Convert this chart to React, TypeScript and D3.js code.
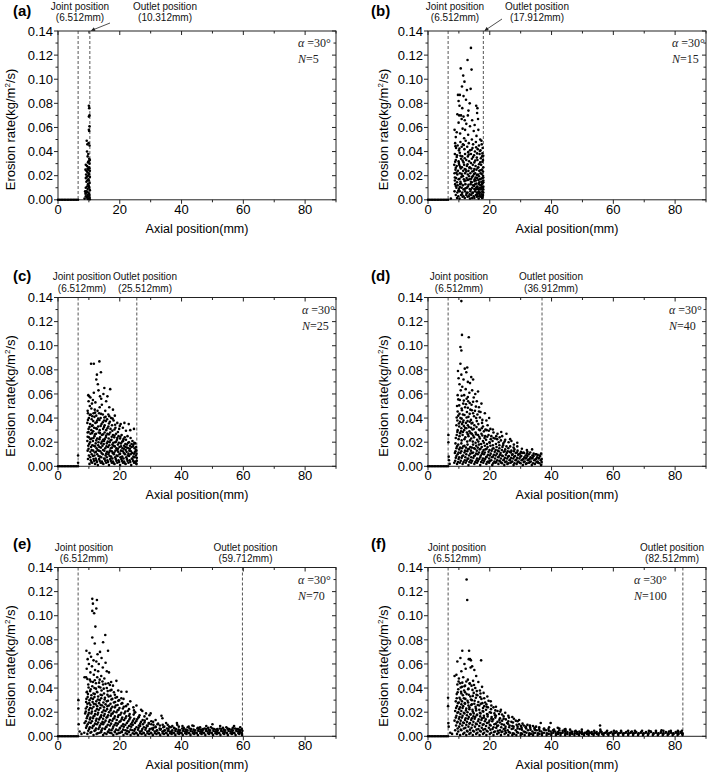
import * as d3 from "d3";

// ---- data ----
const panelTags = ["(a)", "(b)", "(c)", "(d)", "(e)", "(f)"];
const bladeN = [5, 15, 25, 40, 70, 100];
const jointPos = 6.512;
const outletPos = [10.312, 17.912, 25.512, 36.912, 59.712, 82.512];
const xTicks = [0, 20, 40, 60, 80];
const yTicks = [0, 0.02, 0.04, 0.06, 0.08, 0.1, 0.12, 0.14];
// zero-erosion cells upstream of the joint
const zeroX = [0, 0.5, 1, 1.5, 2, 2.5, 3, 3.5, 4, 4.5, 5, 5.5, 6, 6.5];

type Pt = [number, number];

const ptsA: Pt[] = [
  [10.0,.078],[10.1,.076],[10.2,.070],[10.0,.069],[10.2,.061],[10.0,.058],[10.1,.057],[9.3,.049],[9.9,.047],[9.5,.046],
  [10.2,.045],[9.4,.040],[9.8,.038],[9.6,.036],[10.1,.034],[10.3,.033],[9.9,.032],[10.2,.030],[9.7,.031],[9.0,.029],
  [9.4,.028],[10.0,.027],[9.6,.026],[8.9,.025],[9.8,.025],[9.2,.024],[10.3,.024],[9.5,.023],[9.9,.022],[9.1,.021],
  [10.1,.021],[9.7,.020],[9.3,.019],[10.3,.019],[9.0,.018],[9.8,.017],[10.0,.016],[9.5,.016],[9.2,.015],[10.2,.014],
  [9.7,.013],[9.9,.012],[9.4,.011],[10.1,.010],[9.0,.010],[9.6,.009],[10.3,.008],[9.3,.007],[9.8,.006],[9.1,.006],
  [10.0,.005],[9.5,.004],[9.0,.003],[9.7,.003],[10.2,.002],[9.3,.002],[9.9,.001],[9.6,.0008],[10.3,.0005],[8.6,.001],
  [8.9,.005],[8.8,.007],[9.0,.006],[10.2,.004],[10.0,.011],[10.2,.026],
];

const ptsB: Pt[] = [
  [13.9,.126],[12.8,.116],[14.1,.108],[10.6,.109],[11.4,.103],[11.8,.098],[11.0,.094],[12.6,.091],[13.8,.092],[9.7,.087],
  [10.3,.087],[11.5,.086],[12.3,.083],[9.9,.082],[13.5,.080],[10.2,.078],[15.6,.078],[16.0,.076],[11.1,.076],[13.1,.074],
  [9.5,.071],[10.1,.070],[10.7,.070],[11.5,.069],[12.9,.070],[15.9,.072],[10.9,.067],[11.9,.066],[14.3,.066],[16.2,.067],
  [9.9,.064],[12.4,.063],[13.6,.061],[15.1,.062],[8.6,.058],[11.2,.059],[12.0,.058],[14.8,.057],[16.3,.058],[9.3,.056],
  [10.4,.055],[13.0,.054],[15.7,.053],[9.0,.052],[11.7,.051],[14.2,.050],[16.9,.050],[17.3,.049],
  [8.8,.047],[9.6,.045],[10.5,.048],[11.3,.046],[12.2,.049],[13.2,.047],[14.6,.046],[15.5,.048],[16.5,.045],[17.4,.046],
  [9.1,.043],[10.0,.041],[10.9,.044],[11.8,.042],[12.7,.044],[13.6,.041],[14.4,.043],[15.2,.040],[16.1,.042],[17.0,.041],[17.7,.043],
  [8.7,.038],[9.4,.037],[10.3,.039],[11.1,.036],[12.0,.038],[12.9,.036],[13.9,.038],[14.9,.037],[15.8,.035],[16.7,.038],[17.5,.036],
  [9.0,.033],[9.9,.032],[10.7,.034],[11.5,.031],[12.4,.033],[13.3,.032],[14.2,.034],[15.0,.031],[16.0,.033],[16.9,.031],[17.8,.033],
  [8.5,.029],[9.3,.028],[10.1,.029],[11.0,.027],[11.7,.029],[12.6,.028],[13.5,.027],[14.5,.029],[15.4,.028],[16.3,.027],[17.2,.029],[17.9,.027],
  [8.9,.025],[9.7,.024],[10.6,.026],[11.4,.024],[12.2,.025],[13.1,.024],[14.0,.026],[14.8,.024],[15.7,.025],[16.6,.024],[17.5,.025],
  [8.6,.022],[9.5,.021],[10.3,.022],[11.2,.020],[12.0,.022],[12.9,.021],[13.7,.022],[14.6,.020],[15.3,.022],[16.2,.021],[17.0,.022],[17.8,.020],
  [9.1,.018],[9.9,.017],[10.8,.019],[11.6,.017],[12.5,.018],[13.4,.017],[14.3,.019],[15.1,.017],[15.9,.018],[16.8,.017],[17.6,.018],
  [8.7,.016],[10.5,.015],[12.2,.016],[13.9,.015],[15.5,.016],[17.3,.015],
  [8.8,.013],[9.6,.012],[10.4,.013],[11.3,.012],[12.1,.013],[12.9,.011],[13.8,.013],[14.6,.012],[15.3,.013],[15.9,.011],[16.5,.013],[17.0,.012],[17.5,.013],[17.9,.011],
  [9.2,.010],[10.0,.009],[10.9,.010],[11.8,.009],[12.6,.010],[13.5,.009],[14.3,.010],[15.0,.009],[15.6,.010],[16.2,.009],[16.8,.010],[17.3,.009],[17.8,.010],
  [8.6,.007],[9.5,.006],[10.3,.007],[11.1,.006],[12.0,.007],[12.8,.006],[13.7,.007],[14.5,.006],[15.2,.007],[15.8,.006],[16.4,.007],[17.0,.006],[17.6,.007],
  [9.0,.004],[9.8,.003],[10.7,.004],[11.5,.003],[12.4,.004],[13.2,.003],[14.0,.004],[14.8,.003],[15.5,.004],[16.1,.003],[16.7,.004],[17.2,.003],[17.8,.004],
  [10.2,.001],[11.9,.0015],[13.6,.001],[15.0,.0015],[16.4,.001],[17.5,.0015],[7.4,.001],[17.9,.006],[17.9,.016],[17.7,.014],
];
const ptsBCore: Pt[] = [
  [8.9,.0445],[10.2,.0425],[11.6,.0455],[13.0,.0395],[14.1,.0415],[15.6,.0435],[16.8,.0405],[17.6,.0385],
  [9.3,.0355],[10.5,.0365],[11.9,.0345],[13.2,.0375],[14.6,.0355],[15.9,.0385],[17.1,.0345],[17.9,.0365],
  [8.8,.0315],[10.0,.0305],[11.2,.0325],[12.8,.0295],[13.9,.0305],[15.3,.0325],[16.5,.0295],[17.6,.0315],
  [9.0,.0265],[10.4,.0275],[11.9,.0255],[13.4,.0265],[14.3,.0235],[15.0,.0255],[16.1,.0265],[17.0,.0245],[17.8,.0235],
  [9.2,.0225],[10.9,.0215],[12.4,.0235],[13.3,.0195],[14.9,.0215],[15.8,.0205],[16.5,.0195],[17.4,.0215],
  [8.7,.0185],[10.2,.0175],[11.3,.0195],[12.9,.0165],[14.0,.0175],[15.4,.0185],[16.3,.0165],[17.1,.0175],[17.9,.0185],
  [9.4,.0145],[10.7,.0135],[11.8,.0155],[13.1,.0125],[14.2,.0145],[15.0,.0155],[15.7,.0135],[16.6,.0145],[17.3,.0125],[17.9,.0145],
  [9.0,.0115],[10.3,.0105],[11.5,.0085],[12.2,.0095],[13.9,.0085],[14.9,.0115],[15.5,.0085],[16.0,.0105],[16.9,.0085],[17.5,.0105],
  [9.8,.0075],[11.0,.0045],[12.5,.0055],[13.5,.0045],[14.4,.0055],[15.9,.0045],[16.5,.0055],[17.4,.0045],[17.9,.0085],
  [9.4,.0015],[11.2,.0025],[12.8,.0025],[14.3,.0015],[15.8,.0025],[16.9,.0025],[17.7,.0025],
];

const ptsC: Pt[] = [
  [10.7,.085],[11.6,.085],[13.4,.087],[12.6,.076],[13.9,.078],[12.4,.072],[12.9,.068],[13.1,.063],[16.9,.064],[15.0,.065],
  [16.0,.058],[10.1,.058],[9.8,.059],[11.3,.055],[10.5,.057],[9.9,.054],[11.0,.052],[12.1,.053],[14.2,.051],[15.6,.054],
  [14.7,.060],[16.6,.049],[17.8,.047],[10.3,.050],[10.8,.048],[11.9,.047],[13.5,.049],[12.8,.046],[9.6,.046],[15.3,.046],
  [14.0,.056],[13.6,.058],[11.6,.061],
  [9.7,.044],[10.6,.043],[11.5,.044],[12.4,.042],[13.3,.044],[14.5,.043],[15.4,.041],[16.3,.043],[17.2,.040],[18.4,.042],
  [10.0,.040],[10.9,.039],[11.8,.041],[12.7,.038],[13.8,.040],[14.9,.038],[15.9,.039],[16.8,.037],[18.0,.038],[19.2,.036],[21.5,.036],[22.9,.035],[20.3,.035],
  [9.5,.036],[10.4,.035],[11.2,.034],[12.1,.036],[13.0,.033],[14.1,.035],[15.1,.034],[16.3,.033],[17.5,.034],[18.6,.032],[19.8,.031],[21.0,.032],[23.4,.030],[24.6,.031],
  [9.9,.031],[10.8,.030],[11.7,.032],[12.6,.031],[13.5,.030],[14.6,.031],[15.6,.030],[17.0,.031],
  [9.6,.028],[10.5,.027],[11.4,.029],[12.3,.027],[13.2,.028],[14.2,.026],[15.1,.028],[16.0,.027],[16.9,.028],[17.8,.026],[18.8,.027],[19.6,.025],[20.6,.026],[21.6,.024],[22.5,.025],
  [10.0,.024],[10.9,.023],[11.8,.025],[12.7,.023],[13.6,.024],[14.6,.022],[15.5,.024],[16.4,.023],[17.3,.022],[18.2,.024],[19.1,.022],[20.1,.023],[21.1,.021],[22.0,.022],[23.0,.020],[24.1,.021],[25.0,.019],
  [9.5,.021],[10.4,.020],[11.3,.021],[12.2,.019],[13.1,.020],[14.0,.019],[14.9,.021],[15.8,.019],[16.7,.020],[17.6,.018],[18.5,.020],[19.4,.018],[20.4,.019],[21.4,.017],[22.3,.018],[23.3,.017],[24.4,.018],[25.3,.016],
  [9.8,.017],[10.7,.016],[11.6,.017],[12.5,.015],[13.4,.016],[14.4,.017],[15.3,.015],[16.2,.016],[17.1,.015],[18.0,.017],[18.9,.015],[19.9,.016],[20.9,.015],[21.8,.016],[22.8,.015],[23.8,.016],[24.8,.015],
  [9.6,.013],[10.5,.012],[11.4,.013],[12.3,.012],[13.2,.013],[14.1,.011],[15.0,.013],[15.9,.012],[16.8,.013],[17.7,.011],[18.6,.013],[19.5,.012],[20.4,.013],[21.3,.011],[22.2,.012],[23.1,.013],[24.0,.011],[24.9,.012],[25.4,.013],
  [10.0,.009],[10.9,.010],[11.8,.009],[12.7,.010],[13.6,.008],[14.5,.010],[15.4,.009],[16.3,.010],[17.2,.008],[18.1,.010],[19.0,.009],[19.9,.010],[20.8,.008],[21.7,.010],[22.6,.009],[23.5,.010],[24.4,.008],[25.2,.009],
  [9.7,.006],[10.6,.005],[11.5,.006],[12.4,.005],[13.3,.006],[14.2,.004],[15.1,.006],[16.0,.005],[16.9,.006],[17.8,.004],[18.7,.006],[19.6,.005],[20.5,.006],[21.4,.004],[22.3,.006],[23.2,.005],[24.1,.006],[25.0,.004],[25.5,.007],
  [10.2,.002],[11.1,.003],[12.0,.002],[12.9,.001],[13.8,.003],[14.7,.002],[15.6,.003],[16.5,.001],[17.4,.003],[18.3,.002],[19.2,.003],[20.1,.001],[21.0,.003],[21.9,.002],[22.8,.003],[23.7,.001],[24.6,.003],[25.4,.002],
  [6.5,.009],[6.5,.003],
];
const ptsCCore: Pt[] = [
  [10.3,.0425],[11.1,.0415],[12.0,.0445],[13.0,.0395],[13.9,.0435],[15.0,.0405],[16.6,.0415],[17.7,.0395],
  [9.7,.0385],[11.4,.0375],[12.5,.0365],[13.4,.0385],[14.5,.0365],[15.5,.0375],[16.5,.0355],[18.5,.0345],[20.0,.0335],
  [10.2,.0325],[11.0,.0335],[12.3,.0315],[13.8,.0335],[14.9,.0325],[16.0,.0315],[17.6,.0295],[18.3,.0305],[19.4,.0285],[22.0,.0295],
  [9.9,.0285],[11.0,.0275],[12.0,.0265],[13.6,.0275],[14.6,.0265],[15.6,.0255],[16.5,.0265],[17.4,.0245],[18.3,.0255],[19.2,.0235],[20.2,.0245],[21.2,.0225],[23.5,.0235],
  [9.6,.0245],[10.5,.0225],[11.5,.0235],[12.4,.0215],[13.4,.0225],[14.2,.0205],[15.1,.0225],[16.1,.0205],[17.0,.0215],[17.9,.0195],[18.8,.0205],[19.7,.0195],[20.8,.0205],[21.8,.0185],[22.7,.0195],[23.8,.0185],[24.7,.0195],
  [10.1,.0185],[11.1,.0175],[12.0,.0165],[13.0,.0175],[13.9,.0155],[14.8,.0185],[15.7,.0165],[16.6,.0175],[17.5,.0155],[18.4,.0165],[19.4,.0145],[20.4,.0165],[21.3,.0145],[22.3,.0155],[23.3,.0145],[24.3,.0165],[25.2,.0135],
  [9.9,.0145],[10.9,.0135],[11.9,.0115],[12.8,.0135],[13.7,.0125],[14.6,.0135],[15.6,.0105],[16.5,.0115],[17.4,.0125],[18.2,.0115],[19.2,.0135],[20.1,.0105],[21.0,.0125],[21.9,.0135],[22.8,.0105],[23.6,.0125],[24.6,.0105],[25.4,.0105],
  [10.4,.0075],[11.3,.0085],[12.2,.0065],[13.1,.0085],[14.0,.0075],[14.9,.0065],[15.8,.0075],[16.7,.0085],[17.6,.0065],[18.5,.0075],[19.3,.0085],[20.2,.0075],[21.2,.0065],[22.1,.0075],[23.0,.0085],[23.9,.0065],[24.8,.0075],[25.5,.0045],
  [10.8,.0035],[11.7,.0045],[12.6,.0035],[13.5,.0045],[14.4,.0025],[15.3,.0045],[16.2,.0035],[17.1,.0045],[18.0,.0025],[18.9,.0045],[19.8,.0035],[20.7,.0045],[21.6,.0025],[22.5,.0045],[23.4,.0035],[24.3,.0045],[25.2,.0025],
];

const ptsD: Pt[] = [
  [10.8,.137],[11.0,.109],[13.2,.107],[10.5,.099],[10.8,.096],[10.5,.085],[12.7,.082],[9.7,.079],[11.9,.081],[12.4,.078],
  [10.8,.076],[14.0,.074],[14.6,.072],[9.9,.073],[11.5,.072],[12.9,.070],[13.6,.069],[10.2,.068],[11.1,.066],[16.2,.062],
  [12.2,.064],[14.3,.063],[10.6,.063],[13.4,.061],[15.3,.060],[11.7,.059],[9.6,.059],[14.8,.057],[12.5,.056],[10.3,.055],
  [15.8,.054],[13.0,.054],[17.3,.052],[11.4,.052],[14.1,.051],[9.4,.050],[12.0,.049],[16.5,.049],[10.9,.048],[13.7,.047],
  [15.2,.046],[18.4,.044],[17.0,.045],[19.8,.040],[12.6,.045],[14.6,.044],[16.0,.043],[11.3,.043],[9.8,.042],[10.5,.040],
  [13.1,.041],[15.6,.040],[18.9,.038],[17.5,.036],
  [9.5,.038],[10.4,.037],[11.5,.038],[12.3,.036],[13.5,.037],[14.4,.036],[15.0,.034],[16.3,.035],[17.8,.033],[19.3,.034],[20.2,.031],
  [9.2,.034],[10.1,.033],[11.0,.035],[12.0,.032],[12.9,.034],[13.9,.032],[14.8,.031],[16.8,.030],[18.1,.029],[19.0,.030],[21.2,.028],[22.5,.027],[25.4,.027],[23.2,.024],[24.0,.025],[20.5,.025],
  [9.6,.030],[10.7,.029],[11.7,.030],[12.6,.028],[13.4,.029],[14.2,.027],[15.4,.028],[16.2,.026],[17.3,.027],[18.5,.025],[19.6,.026],[21.7,.023],[22.1,.025],[25.0,.022],[27.0,.021],[28.9,.0195],
  [9.3,.026],[10.2,.025],[11.2,.026],[12.1,.024],[13.1,.025],[14.0,.023],[14.9,.024],[15.9,.022],[16.8,.023],[17.8,.021],[18.8,.022],[19.9,.020],[20.9,.021],[22.9,.020],[24.4,.019],[26.1,.020],[27.8,.018],
  [8.9,.019],[9.8,.018],[10.8,.019],[11.8,.017],[12.8,.018],[13.7,.016],[14.6,.018],[15.6,.017],[16.5,.018],[17.4,.016],[18.4,.017],[19.3,.016],[20.2,.017],[21.2,.015],[22.2,.016],[23.1,.015],[24.1,.016],[25.0,.014],[26.0,.015],[27.0,.013],[28.0,.014],[29.0,.013],[30.1,.012],[31.1,.011],[32.2,.012],[33.7,.014],[35.0,.010],
  [9.2,.015],[10.1,.014],[11.0,.015],[12.0,.013],[12.9,.014],[13.9,.013],[14.9,.015],[15.8,.013],[16.7,.014],[17.7,.012],[18.6,.014],[19.6,.012],[20.6,.013],[21.6,.012],[22.6,.013],[23.5,.011],[24.5,.012],[25.5,.011],[26.4,.012],[27.4,.010],[28.4,.011],[29.4,.010],[30.5,.011],[31.6,.009],[32.7,.010],[33.8,.009],[34.9,.010],[36.1,.009],
  [8.7,.011],[9.6,.010],[10.5,.011],[11.4,.009],[12.4,.010],[13.3,.009],[14.3,.011],[15.2,.009],[16.1,.010],[17.1,.009],[18.1,.010],[19.0,.008],[20.0,.009],[21.0,.008],[21.9,.009],[22.9,.008],[23.9,.009],[24.9,.007],[25.9,.008],[26.9,.007],[27.9,.008],[28.9,.007],[29.9,.008],[30.9,.006],[31.9,.007],[32.9,.006],[33.9,.007],[35.0,.006],[36.0,.007],[36.8,.006],
  [9.0,.007],[9.9,.006],[10.9,.007],[11.9,.005],[12.8,.006],[13.8,.005],[14.7,.007],[15.7,.005],[16.6,.006],[17.6,.005],[18.5,.006],[19.5,.004],[20.5,.005],[21.5,.004],[22.4,.005],[23.4,.004],[24.4,.005],[25.4,.004],[26.4,.005],[27.3,.004],[28.3,.005],[29.3,.004],[30.3,.005],[31.3,.004],[32.3,.005],[33.3,.004],[34.4,.005],[35.5,.004],[36.5,.005],
  [8.5,.003],[9.4,.002],[10.3,.003],[11.2,.002],[12.2,.003],[13.1,.001],[14.0,.003],[15.0,.002],[15.9,.003],[16.9,.001],[17.9,.003],[18.9,.002],[19.8,.003],[20.8,.001],[21.8,.003],[22.8,.002],[23.7,.003],[24.7,.001],[25.7,.002],[26.7,.003],[27.7,.001],[28.7,.002],[29.7,.003],[30.7,.001],[31.7,.002],[32.7,.003],[33.6,.001],[34.6,.002],[35.6,.003],[36.6,.001],
  [6.6,.026],[6.6,.020],[6.7,.008],[6.8,.005],[7.0,.002],
];
const ptsDCore: Pt[] = [
  [9.8,.0555],[10.9,.0585],[12.9,.0575],[11.6,.0545],[13.5,.0525],[10.1,.0505],[12.3,.0515],[14.6,.0535],[15.5,.0495],[11.0,.0465],[12.9,.0485],[14.2,.0465],[16.5,.0455],[9.6,.0455],
  [10.2,.0435],[11.8,.0425],[13.5,.0435],[14.9,.0415],[12.5,.0405],[10.9,.0395],[16.8,.0405],[9.3,.0405],[13.9,.0385],[15.8,.0375],[11.3,.0365],[12.8,.0375],[14.1,.0355],[17.6,.0385],
  [10.0,.0355],[10.8,.0315],[11.6,.0335],[12.4,.0315],[13.2,.0325],[14.4,.0305],[15.7,.0325],[16.5,.0305],[17.4,.0315],[18.6,.0305],[19.7,.0295],[21.0,.0305],[23.7,.0285],
  [9.5,.0285],[10.4,.0275],[11.3,.0285],[12.9,.0265],[13.8,.0275],[14.6,.0255],[15.6,.0265],[16.6,.0245],[17.6,.0255],[18.3,.0235],[19.2,.0245],[20.3,.0225],[21.2,.0235],[22.4,.0225],[23.6,.0215],[24.8,.0205],[26.6,.0225],
  [9.0,.0235],[9.9,.0225],[10.9,.0215],[11.8,.0225],[12.7,.0205],[13.6,.0215],[14.5,.0205],[15.4,.0195],[16.3,.0205],[17.2,.0185],[18.1,.0195],[19.1,.0185],[20.0,.0195],[21.0,.0175],[22.0,.0185],[23.1,.0175],[24.3,.0175],[25.4,.0165],[26.6,.0165],[27.7,.0155],[28.9,.0165],[30.4,.0145],[32.0,.0135],
  [9.4,.0165],[10.4,.0155],[11.4,.0165],[12.3,.0155],[13.3,.0145],[14.2,.0155],[15.2,.0145],[16.1,.0155],[17.0,.0145],[18.0,.0135],[19.0,.0145],[19.9,.0135],[20.9,.0145],[21.9,.0135],[22.9,.0125],[23.9,.0135],[24.8,.0125],[25.8,.0125],[26.8,.0115],[27.8,.0125],[28.8,.0115],[29.8,.0105],[30.9,.0115],[32.0,.0105],[33.1,.0115],[34.2,.0105],[35.5,.0095],[36.6,.0105],
  [8.9,.0125],[9.9,.0115],[10.8,.0125],[11.8,.0115],[12.7,.0125],[13.7,.0105],[14.6,.0115],[15.6,.0105],[16.5,.0115],[17.5,.0105],[18.4,.0115],[19.4,.0095],[20.3,.0105],[21.3,.0095],[22.3,.0105],[23.3,.0095],[24.2,.0085],[25.2,.0095],[26.2,.0085],[27.2,.0095],[28.2,.0085],[29.2,.0095],[30.2,.0085],[31.2,.0075],[32.2,.0085],[33.2,.0075],[34.2,.0085],[35.3,.0075],[36.3,.0085],
  [9.2,.0085],[10.1,.0075],[11.1,.0085],[12.1,.0075],[13.0,.0065],[14.0,.0075],[14.9,.0085],[15.9,.0065],[16.9,.0075],[17.8,.0065],[18.8,.0075],[19.8,.0065],[20.7,.0075],[21.7,.0065],[22.7,.0075],[23.6,.0065],[24.6,.0055],[25.6,.0065],[26.6,.0055],[27.6,.0065],[28.6,.0055],[29.6,.0065],[30.6,.0055],[31.6,.0065],[32.6,.0055],[33.6,.0065],[34.7,.0055],[35.8,.0065],[36.8,.0035],
  [8.8,.0045],[9.7,.0035],[10.6,.0045],[11.5,.0035],[12.5,.0045],[13.4,.0035],[14.3,.0045],[15.3,.0035],[16.2,.0045],[17.2,.0035],[18.2,.0045],[19.2,.0035],[20.1,.0045],[21.1,.0025],[22.1,.0035],[23.1,.0045],[24.0,.0025],[25.0,.0035],[26.0,.0025],[27.0,.0035],[28.0,.0025],[29.0,.0035],[30.0,.0025],[31.0,.0035],[32.0,.0025],[33.0,.0035],[34.0,.0025],[35.1,.0035],[36.1,.0025],
];

const ptsE: Pt[] = [
  [11.1,.114],[12.6,.113],[11.3,.110],[12.4,.106],[11.1,.104],[11.7,.102],[12.1,.091],[11.1,.082],[15.3,.084],[14.6,.078],
  [11.9,.077],[9.2,.071],[16.2,.071],[10.2,.069],[12.8,.068],[13.6,.070],[10.7,.066],[14.1,.065],[9.6,.064],[11.5,.063],
  [12.4,.062],[13.2,.060],[15.4,.061],[10.0,.060],[11.0,.058],[14.5,.057],[9.3,.056],[12.0,.055],[13.0,.054],[15.8,.054],
  [16.5,.053],[10.5,.053],[11.6,.051],[14.0,.050],[12.7,.049],[9.1,.049],[8.6,.049],[15.0,.048],[13.5,.047],[18.9,.046],
  [17.2,.045],[10.3,.047],[11.3,.045],[16.3,.044],[12.3,.044],[14.6,.043],[9.8,.043],[17.8,.042],[13.2,.041],[15.8,.040],
  [11.8,.040],[10.6,.039],[19.5,.038],[20.5,.037],[22.2,.037],[16.9,.038],[14.1,.038],[12.6,.037],[9.4,.037],
  [9.7,.035],[10.8,.034],[11.9,.035],[13.0,.033],[14.2,.034],[15.2,.032],[16.4,.033],[17.6,.031],[18.6,.032],[19.8,.030],[21.2,.031],[23.4,.029],
  [9.2,.031],[10.2,.030],[11.3,.031],[12.4,.029],[13.5,.030],[14.7,.028],[15.8,.029],[17.0,.027],[18.1,.028],[19.3,.026],[20.5,.027],[22.0,.025],[24.4,.024],[26.9,.022],[27.3,.021],
  [9.5,.027],[10.5,.026],[11.6,.027],[12.7,.025],[13.8,.026],[14.9,.024],[16.0,.025],[17.2,.023],[18.4,.024],[19.6,.022],[21.0,.023],[22.6,.021],[25.0,.020],[28.5,.019],[30.0,.019],
  [9.0,.023],[10.0,.022],[11.0,.023],[12.1,.021],[13.2,.022],[14.3,.020],[15.4,.021],[16.5,.020],[17.7,.019],[18.9,.020],[20.2,.018],[21.5,.019],[23.0,.017],[24.5,.018],[26.2,.016],[33.5,.017],[33.8,.015],
  [8.8,.019],[9.8,.018],[10.8,.019],[11.8,.017],[12.8,.018],[13.9,.016],[14.9,.017],[16.0,.016],[17.1,.017],[18.2,.015],[19.4,.016],[20.6,.014],[21.8,.015],[23.1,.014],[24.3,.013],[25.6,.014],[26.9,.012],[28.1,.013],[29.4,.011],[30.8,.012],[32.2,.010],[35.0,.011],[38.5,.011],
  [9.3,.015],[10.3,.014],[11.3,.015],[12.3,.013],[13.3,.014],[14.4,.012],[15.4,.013],[16.5,.012],[17.6,.013],[18.7,.011],[19.9,.012],[21.1,.010],[22.3,.011],[23.6,.010],[24.9,.011],[26.2,.009],[27.5,.010],[28.8,.009],[30.2,.010],[31.6,.008],[33.0,.009],[34.4,.008],[36.0,.008],[37.5,.007],[39.1,.008],[40.7,.007],[42.3,.008],[43.5,.009],[45.3,.007],[47.0,.006],[48.6,.007],[50.0,.010],[51.6,.006],[53.4,.007],[55.0,.006],[56.6,.007],[58.2,.006],[59.5,.006],
  [8.6,.011],[9.6,.010],[10.6,.011],[11.6,.009],[12.6,.010],[13.6,.009],[14.6,.010],[15.7,.008],[16.8,.009],[17.9,.008],[19.0,.009],[20.1,.007],[21.3,.008],[22.5,.007],[23.7,.008],[24.9,.006],[26.1,.007],[27.3,.006],[28.5,.007],[29.7,.006],[30.9,.007],[32.1,.005],[33.3,.006],[34.6,.005],[35.8,.006],[37.0,.005],[38.2,.006],[39.5,.005],[40.7,.006],[41.9,.005],[43.1,.006],[44.4,.005],[45.6,.006],[46.8,.005],[48.0,.006],[49.2,.005],[50.5,.006],[51.7,.005],[52.9,.006],[54.1,.005],[55.4,.006],[56.6,.005],[57.8,.006],[59.0,.005],
  [9.1,.007],[10.1,.006],[11.1,.007],[12.1,.005],[13.1,.006],[14.1,.005],[15.2,.006],[16.2,.004],[17.3,.005],[18.4,.004],[19.5,.005],[20.6,.004],[21.8,.005],[22.9,.004],[24.1,.005],[25.3,.003],[26.5,.004],[27.7,.003],[28.9,.004],[30.1,.003],[31.3,.004],[32.5,.003],[33.8,.004],[35.0,.003],[36.2,.004],[37.4,.003],[38.7,.004],[39.9,.003],[41.1,.004],[42.3,.003],[43.5,.004],[44.8,.003],[46.0,.004],[47.2,.003],[48.4,.004],[49.7,.003],[50.9,.004],[52.1,.003],[53.3,.004],[54.6,.003],[55.8,.004],[57.0,.003],[58.2,.004],[59.4,.003],
  [8.5,.003],[9.5,.002],[10.5,.003],[11.5,.001],[12.5,.002],[13.5,.003],[14.6,.001],[15.7,.002],[16.8,.003],[17.9,.001],[19.0,.002],[20.1,.003],[21.2,.001],[22.4,.002],[23.5,.001],[24.7,.002],[25.9,.001],[27.1,.002],[28.3,.001],[29.5,.002],[30.7,.001],[31.9,.002],[33.1,.001],[34.3,.002],[35.6,.001],[36.8,.002],[38.0,.001],[39.2,.002],[40.4,.001],[41.6,.002],[42.9,.001],[44.1,.002],[45.3,.001],[46.5,.002],[47.7,.001],[48.9,.002],[50.2,.001],[51.4,.002],[52.6,.001],[53.8,.002],[55.0,.001],[56.3,.002],[57.5,.001],[58.7,.002],[59.6,.001],
  [6.6,.030],[6.6,.023],[6.7,.010],[7.0,.004],[7.6,.002],
];
const ptsECore: Pt[] = [
  [9.5,.0475],[10.6,.0455],[11.9,.0465],[13.3,.0445],[14.4,.0455],[15.4,.0435],[16.8,.0425],[9.9,.0405],[11.1,.0415],[12.3,.0395],[13.7,.0405],[14.8,.0395],[16.1,.0375],[17.3,.0385],[18.1,.0365],
  [9.3,.0365],[10.4,.0375],[11.5,.0355],[12.7,.0365],[13.8,.0345],[14.9,.0355],[16.0,.0345],[17.0,.0335],[18.4,.0345],[19.1,.0325],[20.5,.0315],
  [9.6,.0325],[10.7,.0315],[11.8,.0325],[12.9,.0305],[14.0,.0315],[15.1,.0305],[16.2,.0295],[17.3,.0305],[18.5,.0285],[19.5,.0295],[20.8,.0275],[22.6,.0265],[25.4,.0255],
  [9.1,.0285],[10.1,.0275],[11.2,.0285],[12.2,.0265],[13.3,.0275],[14.3,.0255],[15.4,.0265],[16.5,.0255],[17.6,.0245],[18.7,.0255],[19.9,.0235],[21.3,.0245],[23.0,.0225],[24.6,.0215],
  [9.4,.0245],[10.4,.0235],[11.5,.0245],[12.6,.0225],[13.7,.0235],[14.8,.0215],[15.9,.0225],[17.0,.0215],[18.1,.0205],[19.3,.0215],[20.5,.0195],[21.8,.0205],[23.2,.0185],[24.8,.0195],[26.4,.0175],[28.0,.0165],[29.6,.0175],
  [9.0,.0205],[10.0,.0195],[11.0,.0205],[12.0,.0185],[13.0,.0195],[14.0,.0175],[15.1,.0185],[16.2,.0175],[17.3,.0185],[18.4,.0165],[19.6,.0175],[20.8,.0155],[22.1,.0165],[23.4,.0155],[24.7,.0145],[26.0,.0155],[27.4,.0135],[28.8,.0145],[30.2,.0125],[31.6,.0135],
  [9.5,.0165],[10.5,.0155],[11.5,.0165],[12.5,.0145],[13.6,.0155],[14.6,.0145],[15.7,.0155],[16.8,.0135],[17.9,.0145],[19.0,.0135],[20.2,.0125],[21.4,.0135],[22.7,.0125],[24.0,.0115],[25.3,.0125],[26.6,.0105],[28.0,.0115],[29.4,.0105],[30.9,.0095],[32.4,.0105],[33.9,.0095],[35.5,.0095],[37.0,.0085],[38.6,.0095],[40.3,.0085],[42.0,.0075],[43.9,.0085],[46.0,.0075],[48.0,.0085],[49.5,.0075],[52.5,.0085],[54.5,.0075],[57.0,.0085],[59.0,.0075],
  [9.0,.0125],[10.0,.0115],[11.0,.0125],[12.0,.0105],[13.0,.0115],[14.0,.0105],[15.0,.0115],[16.1,.0095],[17.2,.0105],[18.3,.0095],[19.4,.0105],[20.6,.0085],[21.8,.0095],[23.0,.0085],[24.2,.0095],[25.4,.0075],[26.6,.0085],[27.8,.0075],[29.0,.0085],[30.3,.0065],[31.6,.0075],[32.9,.0065],[34.1,.0075],[35.3,.0065],[36.5,.0075],[37.8,.0065],[39.0,.0055],[40.2,.0065],[41.4,.0055],[42.6,.0065],[43.9,.0055],[45.1,.0065],[46.3,.0055],[47.5,.0065],[48.8,.0055],[50.0,.0065],[51.2,.0055],[52.4,.0065],[53.7,.0055],[54.9,.0065],[56.1,.0055],[57.3,.0065],[58.6,.0055],[59.7,.0045],
  [9.3,.0085],[10.3,.0075],[11.3,.0085],[12.3,.0065],[13.4,.0075],[14.4,.0065],[15.5,.0075],[16.6,.0055],[17.7,.0065],[18.8,.0055],[20.0,.0065],[21.1,.0055],[22.3,.0045],[23.5,.0055],[24.7,.0045],[25.9,.0055],[27.1,.0045],[28.3,.0055],[29.5,.0045],[30.7,.0055],[31.9,.0045],[33.1,.0055],[34.3,.0045],[35.6,.0045],[36.8,.0035],[38.0,.0045],[39.3,.0035],[40.5,.0045],[41.7,.0035],[42.9,.0045],[44.2,.0035],[45.4,.0045],[46.6,.0035],[47.9,.0045],[49.1,.0035],[50.3,.0045],[51.5,.0035],[52.8,.0045],[54.0,.0035],[55.2,.0045],[56.4,.0035],[57.7,.0045],[58.9,.0035],
  [9.8,.0045],[10.8,.0035],[11.8,.0045],[12.9,.0025],[14.0,.0035],[15.1,.0025],[16.2,.0035],[17.3,.0025],[18.4,.0035],[19.6,.0025],[20.7,.0035],[21.9,.0025],[23.0,.0035],[24.2,.0025],[25.4,.0025],[26.6,.0025],[27.8,.0025],[29.0,.0025],[30.2,.0025],[31.4,.0025],[32.7,.0025],[33.9,.0025],[35.1,.0025],[36.3,.0025],[37.6,.0025],[38.8,.0025],[40.0,.0025],[41.2,.0025],[42.5,.0025],[43.7,.0025],[44.9,.0025],[46.1,.0025],[47.3,.0025],[48.6,.0025],[49.8,.0025],[51.0,.0025],[52.2,.0025],[53.5,.0025],[54.7,.0025],[55.9,.0025],[57.1,.0025],[58.4,.0025],[59.5,.0025],
];

const ptsF: Pt[] = [
  [12.5,.130],[12.7,.113],[11.1,.071],[13.3,.071],[13.2,.064],[13.6,.064],[13.9,.063],[17.2,.063],[9.5,.062],[10.5,.065],
  [14.3,.058],[13.8,.057],[10.8,.054],[11.8,.060],[12.2,.056],[15.0,.055],[9.2,.051],[8.6,.050],[10.0,.048],[11.4,.049],
  [12.9,.047],[14.6,.046],[15.6,.050],[16.3,.045],[13.5,.044],[10.4,.044],[9.5,.043],[12.0,.042],[11.0,.041],[14.1,.042],
  [15.3,.040],[17.5,.041],[16.8,.038],[18.0,.036],[13.0,.039],[11.7,.038],[9.8,.039],[10.7,.037],[14.8,.036],[12.5,.035],
  [16.0,.034],[19.2,.033],[17.3,.031],[15.5,.032],[13.7,.033],[11.3,.034],[9.3,.035],[10.2,.032],[12.1,.031],[14.2,.030],
  [20.3,.029],[18.5,.028],[23.6,.022],[27.3,.016],
  [9.0,.029],[10.0,.028],[11.0,.029],[12.0,.027],[13.0,.028],[14.0,.026],[15.0,.027],[16.1,.026],[17.1,.027],[18.2,.025],[19.4,.024],[21.2,.024],[22.5,.021],
  [9.4,.025],[10.4,.024],[11.4,.025],[12.4,.023],[13.4,.024],[14.4,.022],[15.5,.023],[16.6,.022],[17.7,.021],[18.8,.022],[20.0,.020],[21.5,.019],[24.0,.018],[26.0,.017],
  [8.8,.021],[9.8,.020],[10.8,.021],[11.8,.019],[12.8,.020],[13.8,.018],[14.8,.019],[15.9,.018],[17.0,.019],[18.1,.017],[19.3,.018],[20.6,.016],[22.0,.017],[23.3,.015],[25.2,.014],[28.4,.013],
  [9.2,.017],[10.2,.016],[11.2,.017],[12.2,.015],[13.2,.016],[14.2,.015],[15.3,.016],[16.4,.014],[17.5,.015],[18.7,.014],[19.9,.013],[21.1,.014],[22.5,.012],[24.0,.013],[25.6,.011],[27.0,.012],[29.5,.010],[31.0,.009],[33.0,.009],[35.0,.008],[36.5,.011],[39.7,.011],[42.0,.007],[44.5,.006],[55.7,.009],
  [8.6,.013],[9.6,.012],[10.6,.013],[11.6,.011],[12.6,.012],[13.6,.011],[14.7,.012],[15.8,.010],[16.9,.011],[18.0,.010],[19.1,.011],[20.3,.009],[21.5,.010],[22.7,.009],[23.9,.010],[25.1,.008],[26.4,.009],[27.7,.008],[29.0,.008],[30.3,.007],[31.7,.008],[33.1,.007],[34.5,.007],[36.0,.006],[37.5,.006],[39.0,.006],[40.5,.005],[42.5,.005],[44.5,.005],[46.5,.004],[49.0,.004],[52.0,.004],[56.0,.004],[61.0,.004],[66.0,.004],[72.0,.004],[75.6,.005],[78.0,.004],[81.0,.004],
  [9.1,.009],[10.1,.008],[11.1,.009],[12.1,.007],[13.1,.008],[14.1,.007],[15.2,.008],[16.3,.006],[17.4,.007],[18.5,.006],[19.7,.007],[20.9,.006],[22.1,.007],[23.3,.005],[24.5,.006],[25.8,.005],[27.1,.006],[28.4,.005],[29.7,.006],[31.0,.004],[32.4,.005],[33.8,.004],[35.2,.005],[36.7,.004],[38.2,.005],[39.7,.004],[41.2,.004],[42.8,.003],[44.3,.004],[45.9,.003],[47.5,.004],[49.2,.003],[50.8,.003],[52.5,.003],[54.1,.003],[55.8,.004],[57.4,.003],[59.0,.003],[60.7,.003],[62.3,.003],[64.0,.003],[65.6,.003],[67.2,.003],[68.9,.003],[70.5,.003],[72.1,.004],[73.8,.003],[75.4,.003],[77.0,.003],[78.7,.003],[80.3,.003],[81.9,.003],
  [8.8,.005],[9.8,.004],[10.8,.005],[11.8,.003],[12.8,.004],[13.8,.003],[14.9,.004],[16.0,.003],[17.1,.004],[18.2,.003],[19.3,.004],[20.5,.003],[21.7,.004],[22.9,.003],[24.1,.004],[25.3,.003],[26.6,.003],[27.9,.002],[29.2,.003],[30.5,.002],[31.9,.003],[33.3,.002],[34.7,.003],[36.1,.002],[37.6,.003],[39.1,.002],[40.6,.003],[42.1,.002],[43.6,.003],[45.1,.002],[46.7,.002],[48.3,.002],[49.9,.002],[51.5,.002],[53.1,.002],[54.7,.002],[56.4,.002],[58.1,.002],[59.8,.002],[61.5,.002],[63.1,.002],[64.8,.002],[66.4,.002],[68.1,.002],[69.7,.002],[71.3,.002],[73.0,.002],[74.6,.002],[76.2,.002],[77.9,.002],[79.5,.002],[81.1,.002],[82.3,.002],
  [9.4,.002],[10.4,.001],[11.4,.002],[12.4,.001],[13.4,.002],[14.5,.001],[15.6,.002],[16.7,.001],[17.8,.002],[18.9,.001],[20.0,.002],[21.2,.001],[22.4,.002],[23.6,.001],[24.8,.002],[26.0,.001],[27.3,.001],[28.6,.001],[30.0,.001],[31.3,.001],[32.7,.001],[34.0,.001],[35.5,.001],[36.9,.001],[38.4,.001],[39.9,.001],[41.4,.001],[42.9,.001],[44.4,.001],[45.9,.001],[47.4,.001],[48.9,.001],[50.5,.001],[52.0,.001],[53.6,.001],[55.2,.001],[56.8,.001],[58.4,.001],[60.0,.001],[61.6,.001],[63.2,.001],[64.8,.001],[66.4,.001],[68.0,.001],[69.6,.001],[71.2,.001],[72.8,.001],[74.4,.001],[76.0,.001],[77.6,.001],[79.2,.001],[80.8,.001],[82.4,.001],
  [6.5,.032],[6.5,.025],[6.6,.011],[6.7,.008],[7.2,.003],[7.8,.002],
];
const ptsFCore: Pt[] = [
  [9.9,.0455],[11.1,.0445],[12.4,.0455],[13.5,.0435],[14.9,.0425],[10.6,.0405],[11.8,.0415],[13.1,.0395],[14.4,.0385],[15.8,.0375],[17.0,.0355],
  [9.6,.0365],[10.8,.0355],[12.0,.0365],[13.2,.0345],[14.5,.0335],[15.7,.0345],[16.9,.0325],[18.2,.0315],[19.6,.0295],
  [9.3,.0315],[10.5,.0305],[11.6,.0315],[12.8,.0295],[13.9,.0305],[15.1,.0295],[16.3,.0285],[17.6,.0275],[18.9,.0265],[20.5,.0255],[22.0,.0245],
  [9.7,.0275],[10.8,.0265],[11.9,.0275],[13.1,.0255],[14.2,.0265],[15.4,.0245],[16.6,.0255],[17.8,.0235],[19.0,.0245],[20.4,.0225],[21.8,.0215],[23.4,.0205],[25.0,.0195],
  [9.1,.0235],[10.1,.0225],[11.2,.0235],[12.3,.0215],[13.4,.0225],[14.5,.0205],[15.6,.0215],[16.8,.0195],[17.9,.0205],[19.1,.0185],[20.4,.0195],[21.7,.0175],[23.0,.0185],[24.5,.0165],[26.2,.0155],[27.8,.0145],[29.5,.0135],
  [9.5,.0195],[10.5,.0185],[11.6,.0195],[12.6,.0175],[13.7,.0185],[14.7,.0165],[15.8,.0175],[16.9,.0165],[18.1,.0155],[19.3,.0165],[20.5,.0145],[21.8,.0155],[23.1,.0135],[24.5,.0145],[26.0,.0125],[27.5,.0115],[29.0,.0125],[30.6,.0105],[32.2,.0095],[34.0,.0085],
  [9.0,.0155],[10.0,.0145],[11.0,.0155],[12.0,.0135],[13.0,.0145],[14.0,.0135],[15.1,.0145],[16.2,.0125],[17.3,.0135],[18.4,.0125],[19.6,.0115],[20.8,.0125],[22.0,.0105],[23.3,.0115],[24.6,.0095],[25.9,.0105],[27.3,.0085],[28.7,.0095],[30.1,.0085],[31.6,.0075],[33.0,.0085],[34.5,.0065],[36.0,.0075],[37.6,.0065],[39.2,.0075],[40.8,.0055],[42.5,.0065],[44.2,.0055],[46.0,.0055],[47.8,.0045],[49.8,.0055],[51.8,.0045],[53.8,.0045],[55.8,.0055],[58.0,.0045],[60.2,.0045],[62.5,.0045],[64.8,.0045],[67.0,.0045],[69.3,.0045],[71.5,.0045],[73.8,.0045],[76.2,.0045],[78.6,.0045],[80.9,.0045],[82.2,.0045],
  [9.4,.0115],[10.4,.0105],[11.4,.0115],[12.4,.0095],[13.4,.0105],[14.4,.0095],[15.5,.0105],[16.6,.0085],[17.7,.0095],[18.8,.0085],[20.0,.0095],[21.2,.0075],[22.4,.0085],[23.7,.0075],[25.0,.0065],[26.3,.0075],[27.6,.0065],[29.0,.0065],[30.4,.0055],[31.8,.0065],[33.2,.0055],[34.6,.0055],[36.1,.0045],[37.6,.0055],[39.1,.0045],[40.6,.0045],[42.1,.0035],[43.6,.0045],[45.1,.0035],[46.6,.0035],[48.2,.0035],[49.8,.0035],[51.4,.0035],[53.0,.0035],[54.6,.0035],[56.2,.0035],[57.8,.0035],[59.4,.0035],[61.0,.0035],[62.6,.0035],[64.2,.0035],[65.8,.0035],[67.4,.0035],[69.0,.0035],[70.6,.0035],[72.2,.0035],[73.8,.0035],[75.4,.0035],[77.0,.0035],[78.6,.0035],[80.2,.0035],[81.8,.0035],
  [9.6,.0065],[10.6,.0055],[11.6,.0065],[12.6,.0045],[13.6,.0055],[14.6,.0045],[15.7,.0055],[16.8,.0045],[17.9,.0055],[19.0,.0045],[20.2,.0055],[21.4,.0035],[22.6,.0045],[23.8,.0035],[25.0,.0045],[26.2,.0035],[27.5,.0025],[28.8,.0035],[30.1,.0025],[31.4,.0035],[32.8,.0025],[34.2,.0025],[35.6,.0025],[37.0,.0025],[38.5,.0025],[40.0,.0025],[41.5,.0025],[43.0,.0025],[44.5,.0025],[46.0,.0025],[47.5,.0025],[49.0,.0025],[50.6,.0025],[52.2,.0025],[53.8,.0025],[55.4,.0025],[57.0,.0025],[58.6,.0025],[60.2,.0025],[61.8,.0025],[63.4,.0025],[65.0,.0025],[66.6,.0025],[68.2,.0025],[69.8,.0025],[71.4,.0025],[73.0,.0025],[74.6,.0025],[76.2,.0025],[77.8,.0025],[79.4,.0025],[81.0,.0025],[82.4,.0025],
];

const series: Pt[][] = [
  ptsA,
  ptsB.concat(ptsBCore),
  ptsC.concat(ptsCCore),
  ptsD.concat(ptsDCore),
  ptsE.concat(ptsECore),
  ptsF.concat(ptsFCore),
];

// ---- layout ----
const W = 709;
const H = 777;
const plotW = 278;
const plotH = 168.8;
const sans = "'Liberation Sans', Arial, sans-serif";
const serif = "'Liberation Serif', 'Times New Roman', serif";

const frames = [
  { left: 58, top: 31, tagX: 13, tagDy: -15, titleX: 15, jointX: 80, outletX: 165, textDy: [-21.5, -10.5], noteX: 298, arrow: [110, 23] },
  { left: 428, top: 31, tagX: 371, tagDy: -15, titleX: 388, jointX: 455, outletX: 537, textDy: [-21.5, -10.5], noteX: 672, arrow: [502, 19] },
  { left: 58, top: 297.5, tagX: 13, tagDy: -16.5, titleX: 15, jointX: 82, outletX: 145, textDy: [-17.5, -6], noteX: 302, arrow: null },
  { left: 428, top: 297.5, tagX: 371, tagDy: -16.5, titleX: 388, jointX: 459, outletX: 551, textDy: [-17.5, -6], noteX: 669, arrow: null },
  { left: 58, top: 567.5, tagX: 13, tagDy: -18.5, titleX: 15, jointX: 84, outletX: 245.5, textDy: [-17, -5.5], noteX: 298, arrow: null },
  { left: 428, top: 567.5, tagX: 371, tagDy: -18.5, titleX: 388, jointX: 457, outletX: 672, textDy: [-17, -5.5], noteX: 634, arrow: null },
];

function Panel({ idx }: { idx: number }) {
  const f = frames[idx];
  const x = d3.scaleLinear().domain([0, 90]).range([f.left, f.left + plotW]);
  const y = d3.scaleLinear().domain([0, 0.14]).range([f.top + plotH, f.top]);
  const bottom = f.top + plotH;
  const right = f.left + plotW;
  const minorX = x.ticks(9);
  const minorY = y.ticks(14);
  const outlet = outletPos[idx];
  const fmt = d3.format(".2f");
  const dash = "3,2";

  return (
    <g>
      {/* panel tag */}
      <text x={f.tagX} y={f.top + f.tagDy} fontFamily={sans} fontWeight="bold" fontSize={15}>
        {panelTags[idx]}
      </text>

      {/* joint / outlet captions */}
      <g fontFamily={sans} fontSize={10} textAnchor="middle" fill="#111">
        <text x={f.jointX} y={f.top + f.textDy[0]}>Joint position</text>
        <text x={f.jointX} y={f.top + f.textDy[1]}>({jointPos}mm)</text>
        <text x={f.outletX} y={f.top + f.textDy[0]}>Outlet position</text>
        <text x={f.outletX} y={f.top + f.textDy[1]}>({outlet}mm)</text>
      </g>
      {f.arrow && (
        <line
          x1={f.arrow[0]}
          y1={f.arrow[1]}
          x2={x(outlet) + 1.5}
          y2={f.top - 0.5}
          stroke="#222"
          strokeWidth={0.8}
          markerEnd="url(#arrowHead)"
        />
      )}

      {/* dashed markers */}
      {[jointPos, outlet].map((v) => (
        <line key={v} x1={x(v)} x2={x(v)} y1={f.top} y2={bottom} stroke="#555" strokeWidth={1} strokeDasharray={dash} />
      ))}

      {/* frame */}
      <rect x={f.left} y={f.top} width={plotW} height={plotH} fill="none" stroke="#222" strokeWidth={1} />

      {/* x ticks: bottom outward, top inward */}
      {minorX.map((t) => {
        const major = xTicks.includes(t);
        return (
          <g key={"x" + t} stroke="#222" strokeWidth={1}>
            <line x1={x(t)} x2={x(t)} y1={bottom} y2={bottom + (major ? 4 : 2.5)} />
            <line x1={x(t)} x2={x(t)} y1={f.top} y2={f.top + (major ? 4 : 2.5)} />
          </g>
        );
      })}
      {xTicks.map((t) => (
        <text key={"xl" + t} x={x(t)} y={bottom + 14} textAnchor="middle" fontFamily={sans} fontSize={13}>
          {t}
        </text>
      ))}

      {/* y ticks: left outward, right inward */}
      {minorY.map((t, k) => {
        const major = k % 2 === 0;
        return (
          <g key={"y" + k} stroke="#222" strokeWidth={1}>
            <line x1={f.left} x2={f.left - (major ? 4 : 2.5)} y1={y(t)} y2={y(t)} />
            <line x1={right} x2={right - (major ? 4 : 2.5)} y1={y(t)} y2={y(t)} />
          </g>
        );
      })}
      {yTicks.map((t) => (
        <text key={"yl" + t} x={f.left - 5} y={y(t)} dy="0.36em" textAnchor="end" fontFamily={sans} fontSize={13}>
          {fmt(t)}
        </text>
      ))}

      {/* axis titles */}
      <text x={(f.left + right) / 2} y={bottom + 33} textAnchor="middle" fontFamily={sans} fontSize={12.5}>
        Axial position(mm)
      </text>
      <text
        transform={`translate(${f.titleX},${(f.top + bottom) / 2 + 14}) rotate(-90)`}
        textAnchor="middle"
        fontFamily={sans}
        fontSize={13}
      >
        Erosion rate(kg/m
        <tspan dy={-5} fontSize={8}>2</tspan>
        <tspan dy={5}>/s)</tspan>
      </text>

      {/* alpha / N note */}
      <g fontFamily={serif} fontSize={12} fill="#222">
        <text x={f.noteX} y={f.top + 16}>
          <tspan fontStyle="italic">α</tspan> =30°
        </text>
        <text x={f.noteX} y={f.top + 32}>
          <tspan fontStyle="italic">N</tspan>=
          {bladeN[idx]}
        </text>
      </g>

      {/* scatter */}
      <g fill="#000">
        {zeroX.map((v) => (
          <circle key={"z" + v} cx={x(v)} cy={y(0)} r={1.2} />
        ))}
        {series[idx].map((d, k) => (
          <circle key={k} cx={x(d[0])} cy={y(d[1])} r={1.3} />
        ))}
      </g>
    </g>
  );
}

export default function App() {
  return (
    <svg
      width={W}
      height={H}
      viewBox={`0 0 ${W} ${H}`}
      style={{ position: "absolute", left: 0, top: 0, background: "#fff" }}
    >
      <defs>
        <marker id="arrowHead" viewBox="0 0 10 10" refX="9" refY="5" markerWidth="6" markerHeight="5" orient="auto">
          <path d="M0,0 L10,5 L0,10 z" fill="#222" />
        </marker>
      </defs>
      <rect width={W} height={H} fill="#fff" />
      {frames.map((_, i) => (
        <Panel key={i} idx={i} />
      ))}
    </svg>
  );
}
